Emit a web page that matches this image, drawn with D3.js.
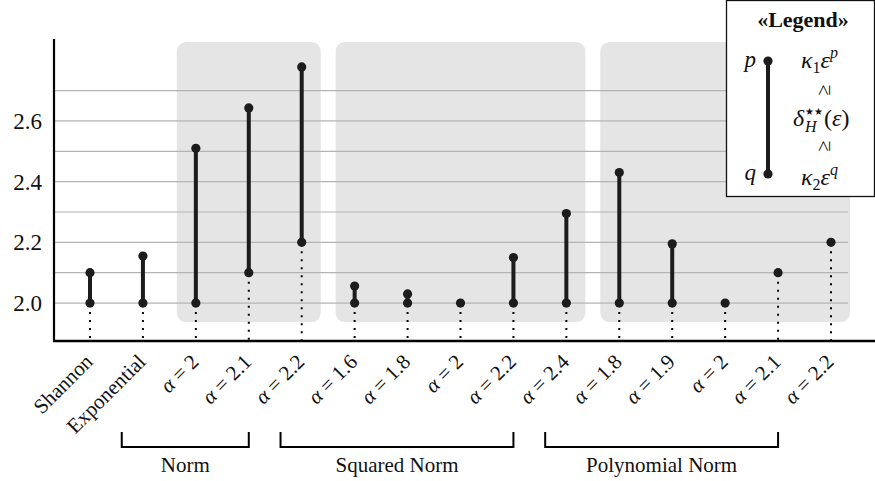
<!DOCTYPE html>
<html>
<head>
<meta charset="utf-8">
<script src="https://cdn.jsdelivr.net/npm/d3@7"></script>
<style>
  body { margin: 0; background: #fff; }
  text { font-family: "Liberation Serif", "DejaVu Serif", serif; fill: #111; }
</style>
</head>
<body>
<svg id="chart" width="875" height="481"></svg>
<script>
// categories along the x axis (name shown, alpha value or null)
var names = ["Shannon", "Exponential", null, null, null, null, null, null, null, null, null, null, null, null, null];
var alphas = [null, null, "2", "2.1", "2.2", "1.6", "1.8", "2", "2.2", "2.4", "1.8", "1.9", "2", "2.1", "2.2"];

// exponents: p (upper) and q (lower)
var pValues = [2.1, 2.155, 2.51, 2.643, 2.778, 2.056, 2.03, 2.0, 2.15, 2.295, 2.43, 2.195, 2.0, 2.1, 2.2];
var qValues = [2.0, 2.0, 2.0, 2.1, 2.2, 2.0, 2.0, 2.0, 2.0, 2.0, 2.0, 2.0, 2.0, 2.1, 2.2];

// families: shaded box covers first..last index
var groupNames = ["Norm", "Squared Norm", "Polynomial Norm"];
var groupFirst = [2, 5, 10];
var groupLast = [4, 9, 14];

var yTicks = [2.0, 2.2, 2.4, 2.6];
var yGrid = [2.0, 2.1, 2.2, 2.3, 2.4, 2.5, 2.6, 2.7];

var svg = d3.select("#chart");
var ink = "#1c1c1c";

var idx = d3.range(alphas.length);
var x = d3.scalePoint().domain(idx).range([90, 831]);
var step = x.step();
var y = d3.scaleLinear().domain([1.875, 2.87]).range([341, 39]);
var axisX = 54;

// shaded group boxes
svg.append("g")
  .selectAll("rect")
  .data(groupNames)
  .enter()
  .append("rect")
  .attr("x", (d, i) => x(groupFirst[i]) - 19)
  .attr("width", (d, i) => x(groupLast[i]) - x(groupFirst[i]) + 38)
  .attr("y", y.range()[1] + 3)
  .attr("height", y(2.0) + 19 - y.range()[1] - 3)
  .attr("rx", 9)
  .attr("fill", "#e5e5e5");

// gridlines
svg.append("g")
  .selectAll("line")
  .data(yGrid)
  .enter()
  .append("line")
  .attr("x1", axisX)
  .attr("x2", 848)
  .attr("y1", d => y(d))
  .attr("y2", d => y(d))
  .attr("stroke", "#b4b4b4")
  .attr("stroke-width", 1.2);

// y axis
var yAxis = svg.append("g")
  .attr("transform", `translate(${axisX},0)`)
  .call(d3.axisLeft(y).tickValues(yTicks).tickSize(0).tickPadding(12).tickFormat(d3.format(".1f")));
yAxis.select(".domain").remove();
yAxis.selectAll("text")
  .style("font-family", "'Liberation Serif', serif")
  .style("font-size", "23px")
  .attr("fill", "#111");

svg.append("line")
  .attr("x1", axisX).attr("x2", axisX)
  .attr("y1", y.range()[1]).attr("y2", y.range()[0] + 1)
  .attr("stroke", "#000").attr("stroke-width", 2.2);

// dotted drops to the axis
svg.append("g")
  .selectAll("line")
  .data(idx)
  .enter()
  .append("line")
  .attr("x1", i => x(i))
  .attr("x2", i => x(i))
  .attr("y1", i => y(qValues[i]) + 9)
  .attr("y2", y.range()[0])
  .attr("stroke", "#000")
  .attr("stroke-width", 2)
  .attr("stroke-dasharray", "2,6");

// x axis line
svg.append("line")
  .attr("x1", axisX - 1).attr("x2", 875)
  .attr("y1", y.range()[0]).attr("y2", y.range()[0])
  .attr("stroke", "#000").attr("stroke-width", 2.4);

// dumbbells
var marks = svg.append("g");
marks.selectAll("line")
  .data(idx)
  .enter()
  .append("line")
  .attr("x1", i => x(i))
  .attr("x2", i => x(i))
  .attr("y1", i => y(qValues[i]))
  .attr("y2", i => y(pValues[i]))
  .attr("stroke", ink)
  .attr("stroke-width", 4);
marks.selectAll("circle.q")
  .data(idx)
  .enter()
  .append("circle")
  .attr("class", "q")
  .attr("cx", i => x(i))
  .attr("cy", i => y(qValues[i]))
  .attr("r", 4.6)
  .attr("fill", ink);
marks.selectAll("circle.p")
  .data(idx.filter(i => pValues[i] != qValues[i]))
  .enter()
  .append("circle")
  .attr("class", "p")
  .attr("cx", i => x(i))
  .attr("cy", i => y(pValues[i]))
  .attr("r", 4.6)
  .attr("fill", ink);

// rotated category labels
var labels = svg.append("g")
  .selectAll("text")
  .data(idx)
  .enter()
  .append("text")
  .attr("text-anchor", "end")
  .attr("transform", i => `translate(${x(i) + 4},${y.range()[0] + 22}) rotate(-45)`)
  .style("font-size", "21px");
labels.each(function(i) {
  var t = d3.select(this);
  if (names[i]) {
    t.text(names[i]);
  } else {
    t.append("tspan").style("font-style", "italic").text("α");
    t.append("tspan").text(" = " + alphas[i]);
  }
});

// brackets under the labels
var bTop = 432, bBot = 447;
var brackets = svg.append("g")
  .selectAll("g")
  .data(groupNames)
  .enter()
  .append("g");
brackets.append("path")
  .attr("d", (d, i) => {
    var l = x(groupFirst[i]) - 1.4 * step, r = x(groupLast[i] - 1);
    return `M${l},${bTop}V${bBot}H${r}V${bTop}`;
  })
  .attr("fill", "none")
  .attr("stroke", "#000")
  .attr("stroke-width", 2);
brackets.append("text")
  .attr("x", (d, i) => (x(groupFirst[i]) - 1.4 * step + x(groupLast[i] - 1)) / 2)
  .attr("y", 472)
  .attr("text-anchor", "middle")
  .style("font-size", "21px")
  .text(d => d);

// legend
var lg = svg.append("g");
lg.append("rect")
  .attr("x", 726.5).attr("y", 0.5)
  .attr("width", 148).attr("height", 196)
  .attr("fill", "#fff").attr("stroke", "#111").attr("stroke-width", 1.3);
lg.append("text")
  .attr("x", 803).attr("y", 27)
  .attr("text-anchor", "middle")
  .style("font-size", "22px").style("font-weight", "bold")
  .text("«Legend»");
lg.append("line")
  .attr("x1", 768).attr("x2", 768).attr("y1", 61).attr("y2", 174)
  .attr("stroke", ink).attr("stroke-width", 4);
lg.selectAll("circle")
  .data([61, 174])
  .enter()
  .append("circle")
  .attr("cx", 768).attr("cy", d => d).attr("r", 4.6).attr("fill", ink);
lg.append("text").attr("x", 756).attr("y", 67).attr("text-anchor", "end")
  .style("font-size", "23px").style("font-style", "italic").text("p");
lg.append("text").attr("x", 756).attr("y", 180).attr("text-anchor", "end")
  .style("font-size", "23px").style("font-style", "italic").text("q");

function kappa(yy, sub, sup) {
  var t = lg.append("text").attr("x", 801).attr("y", yy).style("font-size", "24px");
  t.append("tspan").style("font-style", "italic").text("κ");
  t.append("tspan").attr("dy", 5).style("font-size", "16px").text(sub);
  t.append("tspan").attr("dy", -5).style("font-style", "italic").text("ε");
  t.append("tspan").attr("dy", -10).style("font-size", "16px").style("font-style", "italic").text(sup);
}
kappa(68, "1", "p");
kappa(185, "2", "q");

[90, 146].forEach(function(yy) {
  lg.append("text")
    .attr("transform", `translate(823,${yy}) rotate(-90)`)
    .attr("text-anchor", "middle")
    .attr("dy", "0.33em")
    .style("font-size", "20px")
    .text("≥");
});

lg.append("text").attr("x", 793).attr("y", 126).style("font-size", "24px").style("font-style", "italic").text("δ");
lg.append("text").attr("x", 805).attr("y", 115).style("font-size", "10px").style("font-family", "'DejaVu Sans', sans-serif").text("★★");
lg.append("text").attr("x", 805).attr("y", 132).style("font-size", "16px").style("font-style", "italic").text("H");
var dl = lg.append("text").attr("x", 824).attr("y", 126).style("font-size", "24px");
dl.append("tspan").text("(");
dl.append("tspan").style("font-style", "italic").text("ε");
dl.append("tspan").text(")");
</script>
</body>
</html>
